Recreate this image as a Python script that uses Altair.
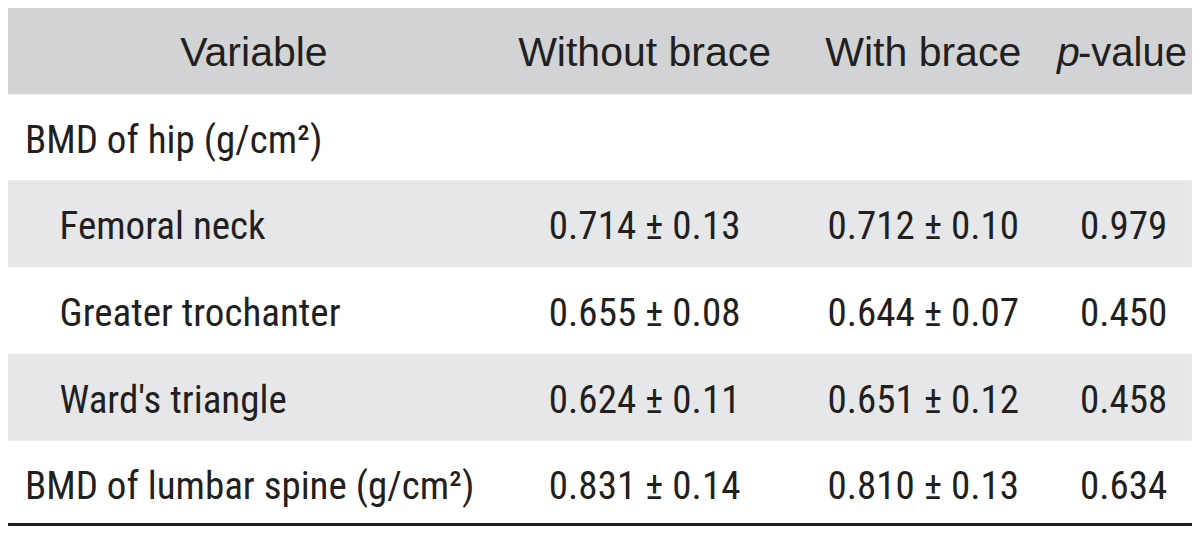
import altair as alt
import pandas as pd

# ---- table content ----
headers = ["Variable", "Without brace", "With brace"]
p_head_italic = "p"
p_head_rest = "-value"
variables = ["BMD of hip (g/cm²)", "Femoral neck", "Greater trochanter",
             "Ward's triangle", "BMD of lumbar spine (g/cm²)"]
is_sub = [False, True, True, True, False]
without_mean = [None, 0.714, 0.655, 0.624, 0.831]
without_sd = [None, 0.13, 0.08, 0.11, 0.14]
with_mean = [None, 0.712, 0.644, 0.651, 0.810]
with_sd = [None, 0.10, 0.07, 0.12, 0.13]
p_values = [None, 0.979, 0.450, 0.458, 0.634]

# ---- layout (pixel coordinates of the reference) ----
M = 8
X0, X1 = M, 1192
Y0, Y1 = M, 526
edges = [3, 90, 177, 265, 352, 440, 526]
left_x, right_x = 3, 1197
col_center = [251, 645, 926, 1128]
label_x = [20, 55]
p_x, rest_x = 1061, 1082
header_bg = "#d1d3d4"
stripe_bg = "#e6e7e8"
ink = "#231f20"
head_font = "Liberation Sans, Arial, Helvetica, sans-serif"
body_font = "Liberation Sans Narrow, Arial Narrow, Roboto Condensed, Liberation Sans, sans-serif"

xs = alt.Scale(domain=[X0, X1], nice=False, zero=False)
ys = alt.Scale(domain=[Y0, Y1], nice=False, zero=False, reverse=True)

def base_y(i):
    return (edges[i] + edges[i + 1]) / 2 + 15.5

# backgrounds
bg_rows = [{"x": left_x, "x2": right_x, "y": edges[0], "y2": edges[1], "c": header_bg}]
for r in range(len(variables)):
    if r % 2 == 1:
        bg_rows.append({"x": left_x, "x2": right_x, "y": edges[r + 1], "y2": edges[r + 2], "c": stripe_bg})
bg_rows.append({"x": left_x, "x2": right_x, "y": 523, "y2": 526, "c": ink})
bg = pd.DataFrame(bg_rows)

rects = alt.Chart(bg).mark_rect().encode(
    x=alt.X("x:Q", scale=xs, axis=None), x2="x2:Q",
    y=alt.Y("y:Q", scale=ys, axis=None), y2="y2:Q",
    color=alt.Color("c:N", scale=None),
)

# header text
hdf = pd.DataFrame({"t": headers, "x": col_center[:3], "y": [base_y(0)] * 3})
head = alt.Chart(hdf).mark_text(font=head_font, fontSize=41, color=ink, align="center",
                                baseline="alphabetic").encode(
    x=alt.X("x:Q", scale=xs, axis=None), y=alt.Y("y:Q", scale=ys, axis=None), text="t:N")
pdf1 = pd.DataFrame({"t": [p_head_italic], "x": [p_x], "y": [base_y(0)]})
phead = alt.Chart(pdf1).mark_text(font=head_font, fontSize=41, fontStyle="italic", color=ink,
                                  align="left", baseline="alphabetic").encode(
    x=alt.X("x:Q", scale=xs, axis=None), y=alt.Y("y:Q", scale=ys, axis=None), text="t:N")
pdf2 = pd.DataFrame({"t": [p_head_rest], "x": [rest_x], "y": [base_y(0)]})
prest = alt.Chart(pdf2).mark_text(font=head_font, fontSize=40, color=ink,
                                  align="left", baseline="alphabetic").encode(
    x=alt.X("x:Q", scale=xs, axis=None), y=alt.Y("y:Q", scale=ys, axis=None), text="t:N")

# body labels
ldf = pd.DataFrame({
    "t": variables,
    "x": [label_x[1] if s else label_x[0] for s in is_sub],
    "y": [base_y(i + 1) for i in range(len(variables))],
})
labels = alt.Chart(ldf).mark_text(font=body_font, fontSize=39, color=ink, align="left",
                                  baseline="alphabetic").encode(
    x=alt.X("x:Q", scale=xs, axis=None), y=alt.Y("y:Q", scale=ys, axis=None), text="t:N")

# body numbers
num_rows = []
for i in range(len(variables)):
    if without_mean[i] is None:
        continue
    y = base_y(i + 1)
    num_rows.append({"t": f"{without_mean[i]:.3f} ± {without_sd[i]:.2f}", "x": col_center[1], "y": y})
    num_rows.append({"t": f"{with_mean[i]:.3f} ± {with_sd[i]:.2f}", "x": col_center[2], "y": y})
    num_rows.append({"t": f"{p_values[i]:.3f}", "x": col_center[3], "y": y})
ndf = pd.DataFrame(num_rows)
nums = alt.Chart(ndf).mark_text(font=body_font, fontSize=39, color=ink, align="center",
                                baseline="alphabetic").encode(
    x=alt.X("x:Q", scale=xs, axis=None), y=alt.Y("y:Q", scale=ys, axis=None), text="t:N")

chart = alt.layer(rects, head, phead, prest, labels, nums).properties(
    width=X1 - X0, height=Y1 - Y0, padding=0,
    autosize=alt.AutoSizeParams(type="fit", contains="padding"),
    background="white",
).configure_view(stroke=None)

chart.save("out.html", embed_options={"renderer": "svg", "actions": False})
